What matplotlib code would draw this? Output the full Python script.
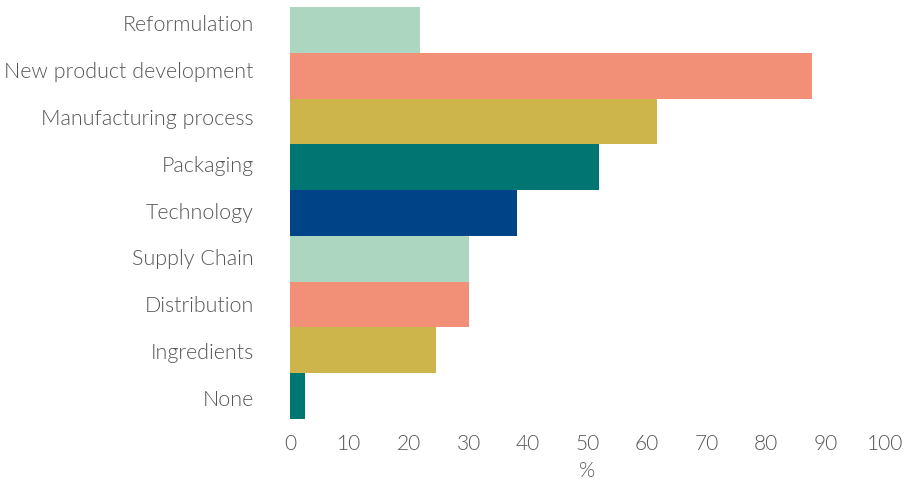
import matplotlib
matplotlib.use("Agg")
import matplotlib.pyplot as plt

# data, top to bottom
categories = ["Reformulation", "New product development", "Manufacturing process",
              "Packaging", "Technology", "Supply Chain", "Distribution",
              "Ingredients", "None"]
values = [21.8, 87.7, 61.7, 51.9, 38.2, 30.1, 30.1, 24.5, 2.5]
colors = ["#add6c0", "#f28f77", "#cdb54c", "#007672", "#004488",
          "#add6c0", "#f28f77", "#cdb54c", "#007672"]
xticks = list(range(0, 101, 10))

plt.rcParams['font.family'] = ['Lato', 'DejaVu Sans']
text_col = "#555555"
fw = 300

fig = plt.figure(figsize=(9.05, 4.82), dpi=100)
ax = fig.add_axes([290 / 905, 1 - 419 / 482, (885 - 290) / 905, 412 / 482])

y = list(range(len(categories)))
ax.barh(y, values, height=1.0, color=colors, linewidth=0)
ax.set_ylim(len(categories) - 0.5, -0.5)
ax.set_xlim(0, 100)

# category labels sit slightly off the bar centres in the original
label_pos = [-0.15 + i * 1.024 for i in y]
ax.set_yticks(label_pos)
ax.set_yticklabels(categories, fontsize=15.5, color=text_col, fontweight=fw)
ax.set_xticks(xticks)
ax.set_xticklabels([str(t) for t in xticks], fontsize=15, color=text_col,
                   fontweight=fw)
ax.tick_params(axis='y', length=0, pad=26)
ax.tick_params(axis='x', length=0, pad=11)
ax.set_xlabel("%", fontsize=15, color=text_col, labelpad=5, fontweight=fw)

for s in ax.spines.values():
    s.set_visible(False)

fig.savefig("out.png", dpi=100)
